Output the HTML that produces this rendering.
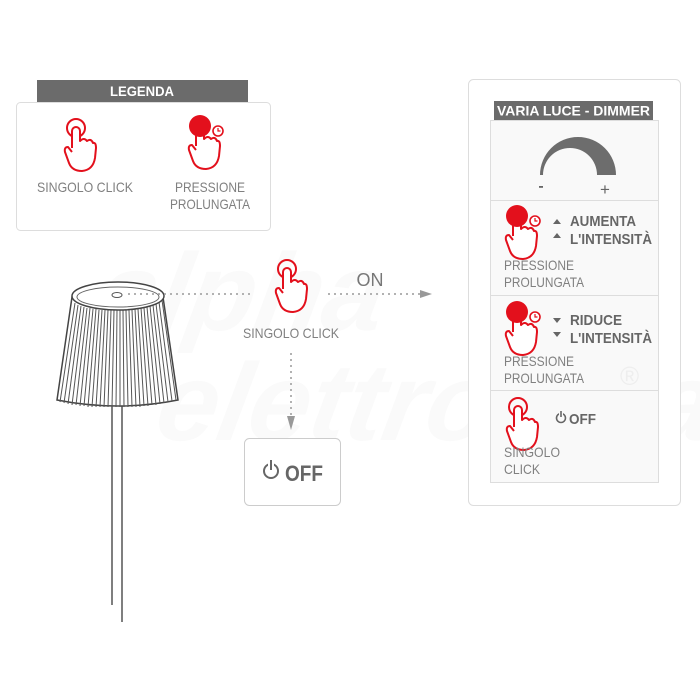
<!DOCTYPE html>
<html><head><meta charset="utf-8"><style>
html,body{margin:0;padding:0;background:#fff}
svg{display:block}
text{font-family:"Liberation Sans",sans-serif}
</style></head><body>
<svg width="700" height="700" viewBox="0 0 700 700" xmlns="http://www.w3.org/2000/svg">
<defs>
<g id="hand">
<path d="M8,30 L8,13 A4,4 0 0 1 16,13 L16,23 Q20,19 23,23 Q27,20 29,25 Q32,24 32,30 L31,40 Q29,52 18,53 Q8,53 5,45 L1,34 Q0,29 4,29 L8,34" fill="#fff" stroke="#e3101c" stroke-width="2" stroke-linejoin="round"/>
</g>
<g id="hclick">
<circle cx="12" cy="10" r="9" fill="none" stroke="#e3101c" stroke-width="2"/>
<use href="#hand"/>
</g>
<g id="hpress">
<use href="#hand"/>
<circle cx="12" cy="10" r="11" fill="#e3101c"/>
<circle cx="30" cy="15" r="5" fill="#fff" stroke="#e3101c" stroke-width="1.6"/>
<path d="M30,12 L30,15 L32.5,15" fill="none" stroke="#e3101c" stroke-width="1.2"/>
</g>
</defs>

<g fill="#fafafa" font-weight="bold" font-style="italic">
<text x="150" y="330" font-size="110" transform="skewX(-10)">alpha</text>
<text x="230" y="440" font-size="110" transform="skewX(-10)">elettronica</text>
</g>

<rect x="16.5" y="102.5" width="254" height="128" rx="4" fill="#fff" stroke="#ddd"/>
<rect x="37" y="80" width="211" height="22" fill="#6b6b6b"/>
<text x="142" y="96" font-size="14" font-weight="bold" fill="#fff" text-anchor="middle" textLength="64" lengthAdjust="spacingAndGlyphs">LEGENDA</text>
<use href="#hclick" transform="translate(64,118)"/>
<text x="85" y="192" font-size="14" fill="#808080" text-anchor="middle" textLength="96" lengthAdjust="spacingAndGlyphs">SINGOLO CLICK</text>
<use href="#hpress" transform="translate(188,116)"/>
<text x="210" y="192" font-size="14" fill="#808080" text-anchor="middle" textLength="70" lengthAdjust="spacingAndGlyphs">PRESSIONE</text>
<text x="210" y="209" font-size="14" fill="#808080" text-anchor="middle" textLength="80" lengthAdjust="spacingAndGlyphs">PROLUNGATA</text>

<line x1="112" y1="404" x2="112" y2="605" stroke="#555" stroke-width="1.5"/>
<line x1="122" y1="404" x2="122" y2="622" stroke="#555" stroke-width="1.5"/>
<path d="M72,297 L57,400 Q118,412 178,400 L163,297 Z" fill="#fff" stroke="#444" stroke-width="1.5"/>
<g stroke="#555" stroke-width="1">
<line x1="75" y1="303" x2="60" y2="402"/><line x1="78" y1="305" x2="64" y2="403"/><line x1="81" y1="306" x2="68" y2="404"/><line x1="84" y1="307" x2="72" y2="405"/><line x1="87" y1="308" x2="76" y2="405"/><line x1="90" y1="308" x2="80" y2="406"/><line x1="93" y1="309" x2="84" y2="406"/><line x1="96" y1="309" x2="88" y2="407"/><line x1="99" y1="310" x2="92" y2="407"/><line x1="102" y1="310" x2="96" y2="407"/><line x1="105" y1="310" x2="100" y2="407"/><line x1="108" y1="310" x2="104" y2="407"/><line x1="111" y1="310" x2="108" y2="407"/><line x1="114" y1="310" x2="112" y2="407"/><line x1="117" y1="310" x2="116" y2="407"/><line x1="120" y1="310" x2="120" y2="407"/><line x1="123" y1="310" x2="124" y2="407"/><line x1="126" y1="310" x2="128" y2="407"/><line x1="129" y1="310" x2="132" y2="407"/><line x1="132" y1="310" x2="136" y2="407"/><line x1="135" y1="309" x2="140" y2="407"/><line x1="138" y1="309" x2="144" y2="406"/><line x1="141" y1="308" x2="148" y2="406"/><line x1="144" y1="308" x2="152" y2="405"/><line x1="147" y1="307" x2="156" y2="405"/><line x1="150" y1="306" x2="160" y2="404"/><line x1="153" y1="305" x2="164" y2="403"/><line x1="156" y1="304" x2="168" y2="402"/><line x1="159" y1="302" x2="172" y2="401"/><line x1="162" y1="300" x2="176" y2="400"/>
</g>
<ellipse cx="118" cy="296" rx="46" ry="14" fill="#fff" stroke="#444" stroke-width="1.5"/>
<ellipse cx="118" cy="297" rx="41" ry="10" fill="#fff" stroke="#666" stroke-width="1"/>
<ellipse cx="117" cy="295" rx="5" ry="2.5" fill="#fff" stroke="#555"/>

<line x1="128" y1="294" x2="252" y2="294" stroke="#999" stroke-width="1.5" stroke-dasharray="2,4"/>
<line x1="328" y1="294" x2="420" y2="294" stroke="#999" stroke-width="1.5" stroke-dasharray="2,4"/>
<path d="M420,290 L432,294 L420,298 Z" fill="#999"/>
<text x="370" y="286" font-size="18" fill="#777" text-anchor="middle">ON</text>
<use href="#hclick" transform="translate(275,259)"/>
<text x="291" y="338" font-size="14" fill="#808080" text-anchor="middle" textLength="96" lengthAdjust="spacingAndGlyphs">SINGOLO CLICK</text>
<line x1="291" y1="353" x2="291" y2="416" stroke="#999" stroke-width="1.5" stroke-dasharray="2,4"/>
<path d="M287,416 L291,430 L295,416 Z" fill="#999"/>
<rect x="244.5" y="438.5" width="96" height="67" rx="5" fill="#fff" stroke="#ccc"/>
<circle cx="271" cy="471" r="7" fill="none" stroke="#666" stroke-width="2"/>
<rect x="268" y="460" width="6" height="6" fill="#fff"/>
<line x1="271" y1="460" x2="271" y2="470" stroke="#666" stroke-width="2"/>
<text x="285" y="481" font-size="22" font-weight="bold" fill="#666" textLength="38" lengthAdjust="spacingAndGlyphs">OFF</text>

<rect x="468.5" y="79.5" width="212" height="426" rx="5" fill="#fff" stroke="#ddd"/>
<rect x="494" y="101" width="159" height="19" fill="#6b6b6b"/>
<text x="573.5" y="115.5" font-size="14" font-weight="bold" fill="#fff" text-anchor="middle" textLength="153" lengthAdjust="spacingAndGlyphs">VARIA LUCE - DIMMER</text>
<rect x="490.5" y="120.5" width="168" height="362" fill="#f9f9f9" stroke="#ddd"/>
<line x1="491" y1="200.5" x2="658" y2="200.5" stroke="#ddd"/>
<line x1="491" y1="295.5" x2="658" y2="295.5" stroke="#ddd"/>
<line x1="491" y1="390.5" x2="658" y2="390.5" stroke="#ddd"/>
<path d="M540,175 A38,38 0 0 1 616,175 L597,175 A27,27 0 0 0 543,175 Z" fill="#6d6d6d"/>
<rect x="539" y="186" width="4" height="1.8" fill="#666"/>
<text x="605" y="195" font-size="17" fill="#666" text-anchor="middle">+</text>

<use href="#hpress" transform="translate(505,206)"/>
<path d="M553,224 L557,219 L561,224 Z M553,238 L557,233 L561,238 Z" fill="#666"/>
<text x="570" y="226" font-size="15" font-weight="bold" fill="#666" textLength="66" lengthAdjust="spacingAndGlyphs">AUMENTA</text>
<text x="570" y="244" font-size="15" font-weight="bold" fill="#666" textLength="82" lengthAdjust="spacingAndGlyphs">L'INTENSITÀ</text>
<text x="504" y="270" font-size="14" fill="#808080" textLength="70" lengthAdjust="spacingAndGlyphs">PRESSIONE</text>
<text x="504" y="287" font-size="14" fill="#808080" textLength="80" lengthAdjust="spacingAndGlyphs">PROLUNGATA</text>

<use href="#hpress" transform="translate(505,302)"/>
<path d="M553,318 L557,323 L561,318 Z M553,332 L557,337 L561,332 Z" fill="#666"/>
<text x="570" y="325" font-size="15" font-weight="bold" fill="#666" textLength="52" lengthAdjust="spacingAndGlyphs">RIDUCE</text>
<text x="570" y="343" font-size="15" font-weight="bold" fill="#666" textLength="82" lengthAdjust="spacingAndGlyphs">L'INTENSITÀ</text>
<text x="504" y="366" font-size="14" fill="#808080" textLength="70" lengthAdjust="spacingAndGlyphs">PRESSIONE</text>
<text x="504" y="383" font-size="14" fill="#808080" textLength="80" lengthAdjust="spacingAndGlyphs">PROLUNGATA</text>

<use href="#hclick" transform="translate(506,397)"/>
<circle cx="561" cy="418" r="4.5" fill="none" stroke="#666" stroke-width="1.6"/>
<rect x="559" y="411" width="4" height="4" fill="#f9f9f9"/>
<line x1="561" y1="411" x2="561" y2="417" stroke="#666" stroke-width="1.6"/>
<text x="569" y="424" font-size="15" font-weight="bold" fill="#666" textLength="27" lengthAdjust="spacingAndGlyphs">OFF</text>
<text x="504" y="457" font-size="14" fill="#808080" textLength="56" lengthAdjust="spacingAndGlyphs">SINGOLO</text>
<text x="504" y="474" font-size="14" fill="#808080" textLength="36" lengthAdjust="spacingAndGlyphs">CLICK</text>
<text x="620" y="385" font-size="26" fill="#eee">®</text>
</svg>
</body></html>
